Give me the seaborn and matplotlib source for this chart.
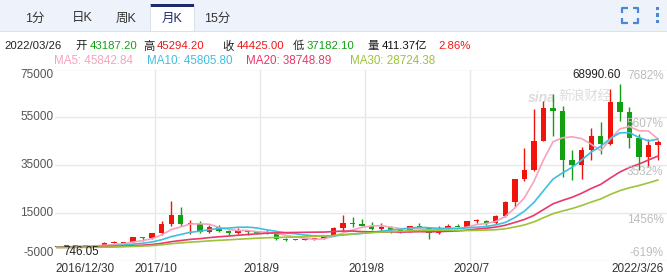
import numpy as np
import pandas as pd
import matplotlib
matplotlib.use("Agg")
import matplotlib.pyplot as plt
import seaborn as sns
from matplotlib.patches import Rectangle
from matplotlib.lines import Line2D

# ---------------- data (monthly candles, 2016/12 .. 2022/03) ----------------
months = [str(p) for p in pd.period_range("2016-12", "2022-03", freq="M")]
opens = [742.0,
         963.76, 970, 1190, 1080, 1348, 2300, 2480, 2875, 4700, 4340, 6470, 10230,
         14160, 10220, 10330, 6930, 9240, 7490, 6390, 7730, 7030, 6630, 6370, 4040,
         3740, 3460, 3850, 4120, 5350, 8560, 10820, 10090, 9630, 8290, 9150, 7570,
         7190, 9350, 8540, 6420, 8630, 9450, 9140, 11350, 11660, 10790, 13800, 19700,
         28990, 33110, 45160, 58800, 57700, 37300, 35040, 41460, 47100, 43800, 61300, 57000,
         46200, 38480, 43187.2]
closes = [963.76,
          970, 1190, 1080, 1348, 2300, 2480, 2875, 4700, 4340, 6470, 10230, 14160,
          10220, 10330, 6930, 9240, 7490, 6390, 7730, 7030, 6630, 6370, 4040, 3740,
          3460, 3850, 4120, 5350, 8560, 10820, 10090, 9630, 8290, 9150, 7570, 7190,
          9350, 8540, 6420, 8630, 9450, 9140, 11350, 11660, 10790, 13800, 19700, 28990,
          33110, 45160, 58800, 57700, 37300, 35040, 41460, 47100, 43800, 61300, 57000, 46200,
          38480, 43190, 44425.0]
highs = [979,
         1153, 1200, 1290, 1350, 2760, 2980, 2950, 4740, 4980, 6470, 11500, 19800,
         17250, 11800, 11700, 9750, 9990, 7760, 8490, 7760, 7410, 7680, 6590, 4320,
         4100, 4200, 4140, 5620, 9090, 13880, 13130, 12330, 10950, 10540, 9510, 7750,
         9580, 10500, 9190, 9470, 10080, 10420, 11470, 12480, 12070, 14100, 19860, 29300,
         41950, 58350, 61790, 64900, 59600, 41300, 42400, 50500, 52900, 67000, 68990.6, 59100,
         48000, 45800, 45294.2]
lows = [746.05,
        755, 915, 890, 1060, 1330, 2130, 1840, 2680, 2980, 4110, 5500, 9400,
        9400, 6000, 6600, 6430, 7050, 5780, 6070, 5880, 6100, 6210, 3650, 3130,
        3400, 3390, 3730, 4090, 5340, 7450, 9070, 9360, 7720, 7300, 6540, 6430,
        6860, 8460, 3800, 6150, 8140, 8920, 8980, 10530, 9880, 10420, 13200, 17570,
        28130, 32300, 45000, 47000, 30000, 28800, 29300, 37300, 39600, 43300, 53300, 42000,
        32900, 34300, 37182.1]
# closes of the 29 months before the visible range (2014/07 .. 2016/11), for the moving averages
prior_closes = [586, 478, 387, 338, 378, 320,
                217, 254, 244, 236, 230, 263, 284, 230, 236, 314, 377, 430,
                368, 437, 416, 448, 531, 673, 624, 575, 609, 698, 742]

ma_windows = [5, 10, 20, 30]
ma_names = ["MA5", "MA10", "MA20", "MA30"]
ma_colors = ["#f6a3bb", "#3fbfe0", "#e8386c", "#9ec23a"]

y_ticks = [-5000, 15000, 35000, 55000, 75000]
x_tick_months = ["2016-12", "2017-10", "2018-09", "2019-08", "2020-07", "2022-03"]
x_tick_labels = ["2016/12/30", "2017/10", "2018/9", "2019/8", "2020/7", "2022/3/26"]
tabs = ["1分", "日K", "周K", "月K", "15分"]
selected_tab = "月K"

info_parts = [("2022/03/26", "#222222"), ("开", "#222222"), ("43187.20", "#11a011"),
              ("高", "#222222"), ("45294.20", "#f01818"), ("收", "#222222"),
              ("44425.00", "#f01818"), ("低", "#222222"), ("37182.10", "#11a011"),
              ("量", "#222222"), ("411.37亿", "#111111"), ("2.86%", "#f01818")]
ma_labels = ["MA5: 45842.84", "MA10: 45805.80", "MA20: 38748.89", "MA30: 28724.38"]

# ---------------- setup ----------------
sns.set_theme(style="white")
FONT = ["Liberation Sans", "Noto Sans CJK SC", "DejaVu Sans"]
plt.rcParams["font.family"] = FONT

W, H = 667, 276
fig = plt.figure(figsize=(W / 100, H / 100), dpi=100)
fig.patch.set_facecolor("white")


def fx(x):
    return x / W


def fy(y):
    return 1 - y / H


def frect(x0, y0, x1, y1, **kw):
    fig.patches.append(Rectangle((fx(x0), fy(y1)), fx(x1) - fx(x0), fy(y0) - fy(y1),
                                 transform=fig.transFigure, **kw))


def fline(xs, ys, **kw):
    fig.lines.append(Line2D([fx(x) for x in xs], [fy(y) for y in ys],
                            transform=fig.transFigure, **kw))


# ---------------- header tab bar ----------------
frect(0, 0, W, 31, color="#eef3fb", lw=0)
fline([0, W], [31, 31], color="#dbe2ec", lw=0.8)
tab_x = [35, 82, 126, 172, 217]
for t, x in zip(tabs, tab_x):
    if t == selected_tab:
        frect(150, 4, 194, 31.5, color="white", lw=0)
        fline([150, 150], [4, 31], color="#d6dde8", lw=0.6)
        fline([194, 194], [4, 31], color="#d6dde8", lw=0.6)
        frect(150, 4, 194, 6.5, color="#1b2b6e", lw=0)
        fig.text(fx(x), fy(18.5), t, ha="center", va="center", fontsize=9,
                 color="#1b2b6e", family=FONT)
    else:
        fig.text(fx(x), fy(18.5), t, ha="center", va="center", fontsize=9,
                 color="#333333", family=FONT)

icon_c = "#4a88d6"
lwi = 1.6
fline([622, 622, 627.5], [12.5, 7.5, 7.5], color=icon_c, lw=lwi, solid_capstyle="butt")
fline([632.5, 638, 638], [7.5, 7.5, 12.5], color=icon_c, lw=lwi, solid_capstyle="butt")
fline([622, 622, 627.5], [17.5, 22.5, 22.5], color=icon_c, lw=lwi, solid_capstyle="butt")
fline([632.5, 638, 638], [22.5, 22.5, 17.5], color=icon_c, lw=lwi, solid_capstyle="butt")
for yy in (7, 13.5, 20):
    frect(655.5, yy, 658.8, yy + 3, color=icon_c, lw=0)

# ---------------- info lines ----------------
info_x = [4, 75, 90, 143, 157, 222, 237, 293, 307, 367, 382, 438]
for (txt, col), x in zip(info_parts, info_x):
    fig.text(fx(x), fy(46), txt, ha="left", va="center", fontsize=8.2, color=col, family=FONT)
ma_x = [54, 147, 246, 350]
for txt, col, x in zip(ma_labels, ma_colors, ma_x):
    fig.text(fx(x), fy(61), txt, ha="left", va="center", fontsize=8.4, color=col, family=FONT)

# ---------------- main chart ----------------
y_top_px, y_bot_px = 69.5, 260.5
ax = fig.add_axes([fx(55), fy(y_bot_px), fx(W) - fx(55), fy(y_top_px) - fy(y_bot_px)])
ax.set_facecolor("white")
n = len(months)
idx = np.arange(n)
ax.set_xlim(-0.18, 63.94)
ax.set_ylim(y_ticks[0], y_ticks[-1])
for s in ax.spines.values():
    s.set_visible(False)
ax.set_xticks([])
ax.set_yticks([])

grid_c = "#e8e8e8"
for v in y_ticks:
    ax.axhline(v, color=grid_c, lw=1.0, zorder=0)
for m in x_tick_months[1:-1]:
    ax.axvline(months.index(m) + 0.28, color=grid_c, lw=1.0, zorder=0)

# watermark
ax.text(fx(528), fy(98), "sina", transform=fig.transFigure, fontsize=10, color="#dcdcdc",
        fontweight="bold", style="italic", ha="left", va="center", zorder=0.5, family=FONT)
ax.text(fx(558), fy(96), "新浪财经", transform=fig.transFigure, fontsize=9.5, color="#dcdcdc",
        style="italic", ha="left", va="center", zorder=0.5, family=FONT)

# candles
up_c, down_c = "#f0140c", "#12a012"
o = np.array(opens, float)
c = np.array(closes, float)
h = np.array(highs, float)
l = np.array(lows, float)
cols = [up_c if cc >= oo else down_c for oo, cc in zip(o, c)]
ax.vlines(idx, l, h, colors=cols, lw=1.0, zorder=2)
body_h = np.maximum(np.abs(c - o), 420)
ax.bar(idx, body_h, bottom=np.minimum(o, c), width=0.56, color=cols, lw=0, zorder=2)

# moving averages via seaborn
full = pd.Series(list(prior_closes) + list(closes), dtype=float)
rows = []
for name, w in zip(ma_names, ma_windows):
    vals = full.rolling(w).mean().iloc[-n:].to_numpy()
    rows.append(pd.DataFrame({"idx": idx, "value": vals, "ma": name}))
ma_df = pd.concat(rows, ignore_index=True)
sns.lineplot(data=ma_df, x="idx", y="value", hue="ma", hue_order=ma_names,
             palette=dict(zip(ma_names, ma_colors)), lw=1.2, legend=False, ax=ax,
             zorder=3, estimator=None)
ax.set_xlabel("")
ax.set_ylabel("")
ax.set_xticks([])
ax.set_yticks([])

# max / min annotations
imax = int(np.argmax(h))
imin = int(np.argmin(l))
ax.annotate(f"{h[imax]:.2f}", xy=(imax, h[imax]), xytext=(1, 9), textcoords="offset pixels",
            ha="right", va="center", fontsize=8.4, color="#222222", family=FONT)
ax.annotate(f"{l[imin]:.2f}", xy=(imin, l[imin]), xytext=(7, -5), textcoords="offset pixels",
            ha="left", va="center", fontsize=8.4, color="#222222", family=FONT)

# left value labels and right percent labels
base = closes[0]
for k, v in enumerate(y_ticks):
    ypx = y_bot_px - (v - y_ticks[0]) / (y_ticks[-1] - y_ticks[0]) * (y_bot_px - y_top_px)
    if k == 0:
        yy = 253
    elif k == len(y_ticks) - 1:
        yy = 75.5
    else:
        yy = ypx
    fig.text(fx(53.5), fy(yy), str(v), ha="right", va="center", fontsize=8.5, color="#555555",
             family=FONT)
    pct = f"{(v - base) / base * 100:.0f}%"
    if k == 0:
        ry = 253
    elif k == len(y_ticks) - 1:
        ry = 76
    else:
        ry = ypx + 6.8
    fig.text(fx(663.5), fy(ry), pct, ha="right", va="center", fontsize=8.5, color="#bdbdbd",
             family=FONT, zorder=5)

# x labels
for m, lab in zip(x_tick_months, x_tick_labels):
    i = months.index(m)
    if m == x_tick_months[0]:
        fig.text(fx(55), fy(268.5), lab, ha="left", va="center", fontsize=8.5,
                 color="#333333", family=FONT)
    elif m == x_tick_months[-1]:
        fig.text(fx(664), fy(268.5), lab, ha="right", va="center", fontsize=8.5,
                 color="#333333", family=FONT)
    else:
        xd = ax.transData.transform((i + 0.28, 0))[0]
        fig.text(xd / fig.bbox.width + 0.002, fy(268.5), lab, ha="center", va="center",
                 fontsize=8.5, color="#333333", family=FONT)

fig.savefig("out.png", dpi=100, facecolor="white")
